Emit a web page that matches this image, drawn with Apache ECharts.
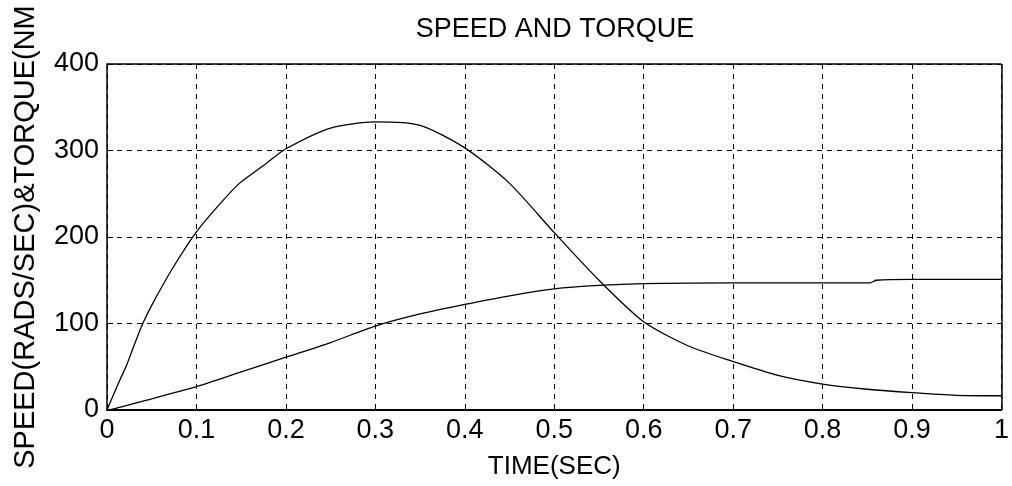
<!DOCTYPE html>
<html>
<head>
<meta charset="utf-8">
<script src="https://cdn.jsdelivr.net/npm/echarts@6/dist/echarts.min.js"></script>
<style>
html,body{margin:0;padding:0;background:#fff;}
#chart{width:1012px;height:486px;}
</style>
</head>
<body>
<div id="chart"></div>
<script>
// Torque curve
const torqueTime = [0, 0.007, 0.015, 0.022, 0.03, 0.04, 0.051, 0.074, 0.1, 0.126, 0.148, 0.178, 0.2, 0.25, 0.3, 0.35, 0.4, 0.45, 0.5, 0.55, 0.6, 0.65, 0.7, 0.75, 0.8, 0.85, 0.9, 0.95, 1.0];
const torqueValue = [0, 17, 36, 52, 74, 100, 123, 165, 206, 238, 262, 285, 302, 326, 333, 329, 303, 262, 205, 150, 102, 74, 56, 40, 30, 24, 20, 17, 16.5];
// Speed curve
const speedTime = [0, 0.01, 0.05, 0.1, 0.15, 0.2, 0.25, 0.3, 0.35, 0.4, 0.45, 0.5, 0.55, 0.6, 0.7, 0.8, 0.853, 0.86, 0.9, 1.0];
const speedValue = [0, 2, 13, 27, 44, 61, 78, 97, 111, 122, 132, 140, 144, 146, 147, 147, 147, 150, 151, 151];
const xTicks = [0, 0.1, 0.2, 0.3, 0.4, 0.5, 0.6, 0.7, 0.8, 0.9, 1];
const yTicks = [0, 100, 200, 300, 400];

const zip = (a, b) => a.map((t, i) => [t, b[i]]);
const font = 'Liberation Sans, Arial, sans-serif';

const chart = echarts.init(document.getElementById('chart'));
chart.setOption({
  backgroundColor: '#fff',
  animation: false,
  title: {
    text: 'SPEED AND TORQUE',
    left: 550, top: 11, textAlign: 'center',
    textStyle: {fontFamily: font, fontSize: 27, fontWeight: 'normal', color: '#000'}
  },
  grid: {left: 107, right: 7, top: 64, bottom: 76},
  xAxis: {
    type: 'value', min: 0, max: 1, interval: 0.1,
    name: 'TIME(SEC)', nameLocation: 'middle', nameGap: 44,
    nameTextStyle: {fontFamily: font, fontSize: 26, color: '#000'},
    axisLine: {show: true, onZero: false, lineStyle: {color: '#000', width: 2}},
    axisTick: {show: true, inside: true, length: 6, lineStyle: {color: '#000'}},
    axisLabel: {fontFamily: font, fontSize: 27, color: '#000', margin: 7,
      formatter: v => xTicks.includes(Math.round(v * 10) / 10) ? String(Math.round(v * 10) / 10) : ''},
    splitLine: {show: true, lineStyle: {color: '#000', type: [5, 5], width: 1}}
  },
  yAxis: {
    type: 'value', min: 0, max: 400, interval: 100,
    name: 'SPEED(RADS/SEC)&TORQUE(NM', nameLocation: 'middle', nameGap: 67,
    nameTextStyle: {fontFamily: font, fontSize: 29, color: '#000', padding: [0, 0, 0, 0]},
    axisLine: {show: true, lineStyle: {color: '#000', width: 1.5}},
    axisTick: {show: true, inside: true, length: 6, lineStyle: {color: '#000'}},
    axisLabel: {fontFamily: font, fontSize: 27, color: '#000', margin: 8,
      formatter: v => yTicks.includes(v) ? String(v) : ''},
    splitLine: {show: true, lineStyle: {color: '#000', type: [5, 5], width: 1}}
  },
  series: [
    {type: 'line', data: zip(torqueTime, torqueValue), symbol: 'none', smooth: 0.25,
      lineStyle: {color: '#000', width: 1.3},
      markLine: {silent: true, symbol: 'none', label: {show: false},
        lineStyle: {color: '#000', type: 'solid', width: 1.5},
        data: [{yAxis: 400}, {xAxis: 1}]}},
    {type: 'line', data: zip(speedTime, speedValue), symbol: 'none', smooth: 0.25,
      lineStyle: {color: '#000', width: 1.3}}
  ]
});
</script>
</body>
</html>
